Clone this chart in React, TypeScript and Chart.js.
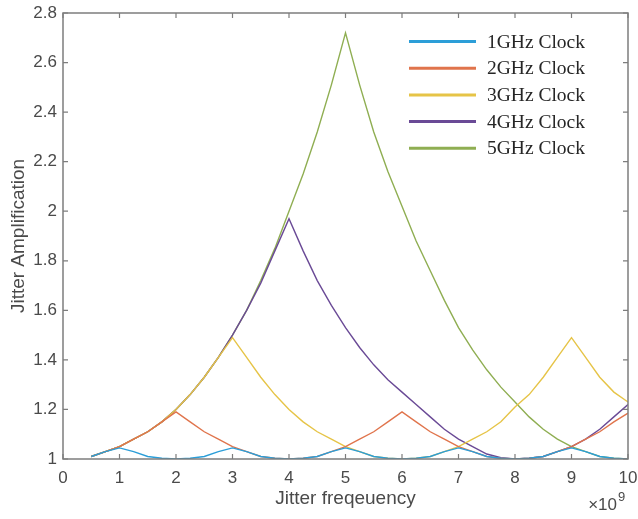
import React, { useEffect, useRef } from "react";
import { Chart, registerables } from "chart.js";

Chart.register(...registerables);

// Jitter frequency (units of 1e9 Hz)
const freqs = [
  0.5, 0.75, 1, 1.25, 1.5, 1.75, 2, 2.25, 2.5, 2.75, 3, 3.25, 3.5, 3.75, 4, 4.25, 4.5, 4.75, 5, 5.25,
  5.5, 5.75, 6, 6.25, 6.5, 6.75, 7, 7.25, 7.5, 7.75, 8, 8.25, 8.5, 8.75, 9, 9.25, 9.5, 9.75, 10,
];

const clock1 = [
  1.01, 1.03, 1.045, 1.03, 1.01, 1.003, 1.0, 1.003,
  1.01, 1.03, 1.045, 1.03, 1.01, 1.003, 1.0, 1.003,
  1.01, 1.03, 1.045, 1.03, 1.01, 1.003, 1.0, 1.003,
  1.01, 1.03, 1.045, 1.03, 1.01, 1.003, 1.0, 1.003,
  1.01, 1.03, 1.045, 1.03, 1.01, 1.003, 1.0,
];
const clock2 = [
  1.01, 1.03, 1.05, 1.08, 1.11, 1.15, 1.19, 1.15, 1.11, 1.08, 1.05, 1.03, 1.01, 1.003, 1.0, 1.003,
  1.01, 1.03, 1.05, 1.08, 1.11, 1.15, 1.19, 1.15, 1.11, 1.08, 1.05, 1.03, 1.01, 1.003, 1.0, 1.003,
  1.01, 1.03, 1.05, 1.08, 1.11, 1.15, 1.185,
];
const clock3 = [
  1.01, 1.03, 1.05, 1.08, 1.11, 1.15, 1.2, 1.26, 1.33, 1.41, 1.49,
  1.41, 1.33, 1.26, 1.2, 1.15, 1.11, 1.08, 1.05, 1.03, 1.01, 1.003, 1.0,
  1.003, 1.01, 1.03, 1.05, 1.08, 1.11, 1.15, 1.21, 1.26, 1.33, 1.41, 1.49,
  1.41, 1.33, 1.27, 1.23,
];
const clock4 = [
  1.01, 1.03, 1.05, 1.08, 1.11, 1.15, 1.2, 1.26, 1.33, 1.41, 1.5, 1.6, 1.71, 1.84, 1.97,
  1.84, 1.72, 1.62, 1.53, 1.45, 1.38, 1.32, 1.27, 1.22, 1.17, 1.12, 1.08, 1.05, 1.02, 1.005, 1.0,
  1.003, 1.01, 1.03, 1.05, 1.08, 1.12, 1.17, 1.22,
];
const clock5 = [
  1.01, 1.03, 1.05, 1.08, 1.11, 1.15, 1.2, 1.26, 1.33, 1.41, 1.5, 1.6, 1.72, 1.85, 2.0, 2.15, 2.32, 2.51, 2.72,
  2.51, 2.32, 2.16, 2.02, 1.88, 1.76, 1.64, 1.53, 1.44, 1.36, 1.29, 1.23, 1.17, 1.12, 1.08, 1.05, 1.03, 1.01, 1.003, 1.0,
];

const seriesNames = ["1GHz Clock", "2GHz Clock", "3GHz Clock", "4GHz Clock", "5GHz Clock"];
const seriesValues = [clock1, clock2, clock3, clock4, clock5];
const seriesColors = ["#2c9ed8", "#e0744c", "#e6c447", "#6a4a96", "#8fae52"];

const xMin = 0;
const xMax = 10;
const yMin = 1;
const yMax = 2.8;
const yStep = 0.2;
const xStep = 1;

const xTitle = "Jitter freqeuency";
const yTitle = "Jitter Amplification";
const xExponent = "9";

const SANS = "'Liberation Sans', Arial, Helvetica, sans-serif";
const SERIF = "'Liberation Serif', 'Times New Roman', serif";
const AXIS_COLOR = "#7d7d7d";
const TEXT_COLOR = "#4a4a4a";

const framePlugin = {
  id: "matlabFrame",
  afterDraw(chart: any) {
    const { ctx, chartArea, scales } = chart;
    const { left, right, top, bottom } = chartArea;
    ctx.save();
    ctx.strokeStyle = AXIS_COLOR;
    ctx.lineWidth = 1.5;
    ctx.strokeRect(left, top, right - left, bottom - top);
    const tl = 5;
    ctx.lineWidth = 1.2;
    ctx.beginPath();
    scales.x.ticks.forEach((t: any) => {
      const px = scales.x.getPixelForValue(t.value);
      ctx.moveTo(px, bottom);
      ctx.lineTo(px, bottom - tl);
      ctx.moveTo(px, top);
      ctx.lineTo(px, top + tl);
    });
    scales.y.ticks.forEach((t: any) => {
      const py = scales.y.getPixelForValue(t.value);
      ctx.moveTo(left, py);
      ctx.lineTo(left + tl, py);
      ctx.moveTo(right, py);
      ctx.lineTo(right - tl, py);
    });
    ctx.stroke();

    // x10^9 exponent label
    ctx.fillStyle = TEXT_COLOR;
    ctx.textBaseline = "alphabetic";
    ctx.textAlign = "left";
    ctx.font = `17px ${SANS}`;
    const base = "\u00d710";
    const w = ctx.measureText(base).width;
    const ex = right - 11 - w;
    ctx.fillText(base, ex, bottom + 51);
    ctx.font = `13px ${SANS}`;
    ctx.fillText(xExponent, ex + w + 1, bottom + 42);
    ctx.restore();
  },
};

const legendPlugin = {
  id: "insideLegend",
  afterDraw(chart: any) {
    const { ctx } = chart;
    const x0 = 409;
    const x1 = 476;
    const tx = 487;
    const y0 = 41.5;
    const dy = 26.7;
    ctx.save();
    ctx.font = `19.5px ${SERIF}`;
    ctx.textBaseline = "middle";
    ctx.textAlign = "left";
    chart.data.datasets.forEach((ds: any, i: number) => {
      const y = y0 + i * dy;
      ctx.strokeStyle = ds.borderColor;
      ctx.lineWidth = 3;
      ctx.beginPath();
      ctx.moveTo(x0, y);
      ctx.lineTo(x1, y);
      ctx.stroke();
      ctx.fillStyle = "#262626";
      ctx.fillText(ds.label, tx, y + 1);
    });
    ctx.restore();
  },
};

export default function App() {
  const canvasRef = useRef<HTMLCanvasElement | null>(null);

  useEffect(() => {
    document.body.style.margin = "0";
    const canvas = canvasRef.current;
    if (!canvas) return;
    const chart = new Chart(canvas, {
      type: "line",
      data: {
        datasets: seriesNames.map((name, i) => ({
          label: name,
          data: freqs.map((f, j) => ({ x: f, y: seriesValues[i][j] })),
          borderColor: seriesColors[i],
          backgroundColor: seriesColors[i],
          borderWidth: 1.4,
          pointRadius: 0,
          tension: 0,
          fill: false,
        })),
      },
      options: {
        animation: false,
        responsive: false,
        maintainAspectRatio: false,
        events: [],
        layout: { padding: { left: 0, right: 10, top: 13, bottom: 0 } },
        plugins: {
          legend: { display: false },
          title: { display: false },
          tooltip: { enabled: false },
        },
        scales: {
          x: {
            type: "linear",
            min: xMin,
            max: xMax,
            grid: { display: false, drawTicks: false },
            border: { display: false },
            ticks: {
              stepSize: xStep,
              padding: 9,
              color: TEXT_COLOR,
              font: { family: SANS, size: 17 },
              maxRotation: 0,
              callback: (v: any) => String(Number(v)),
            },
            title: {
              display: true,
              text: xTitle,
              color: TEXT_COLOR,
              font: { family: SANS, size: 19 },
              padding: { top: 0, bottom: 9 },
            },
            afterFit: (s: any) => {
              s.height = 60;
              s.paddingLeft = 0;
              s.paddingRight = 0;
            },
          },
          y: {
            type: "linear",
            min: yMin,
            max: yMax,
            grid: { display: false, drawTicks: false },
            border: { display: false },
            ticks: {
              stepSize: yStep,
              padding: 6,
              color: TEXT_COLOR,
              font: { family: SANS, size: 17 },
              callback: (v: any) => String(Number(Number(v).toFixed(1))),
            },
            title: {
              display: true,
              text: yTitle,
              color: TEXT_COLOR,
              font: { family: SANS, size: 19 },
              padding: { top: 7, bottom: 0 },
            },
            afterFit: (s: any) => {
              s.width = 63;
              s.paddingTop = 0;
              s.paddingBottom = 0;
            },
          },
        },
      },
      plugins: [framePlugin, legendPlugin],
    });
    return () => chart.destroy();
  }, []);

  return (
    <div style={{ width: 638, height: 519, background: "#ffffff" }}>
      <canvas ref={canvasRef} width={638} height={519} style={{ display: "block" }} />
    </div>
  );
}
